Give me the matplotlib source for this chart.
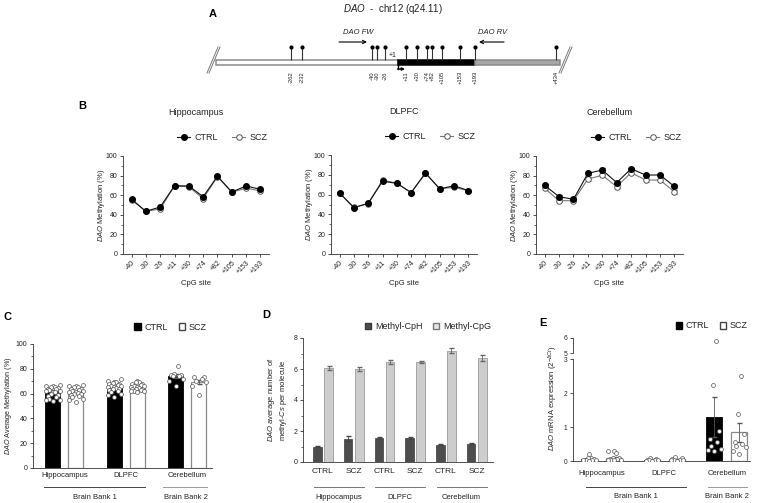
import numpy as np
import matplotlib
matplotlib.use("Agg")
import matplotlib.pyplot as plt
from matplotlib.patches import Patch, Rectangle
from matplotlib.lines import Line2D

plt.rcParams['font.family'] = ['Liberation Sans', 'DejaVu Sans']
plt.rcParams['mathtext.fontset'] = 'custom'
plt.rcParams['mathtext.rm'] = 'Liberation Sans'
plt.rcParams['mathtext.it'] = 'Liberation Sans:italic'
plt.rcParams['text.color'] = '#222222'

# ---------------- data ----------------
# panel A: CpG sites (bp from TSS) and their place on the schematic
sites = ['-262', '-232', '-40', '-30', '-26', '+11', '+30', '+74', '+82', '+105', '+153', '+193', '+434']
site_x = [291, 302, 372, 377, 385, 406, 417, 427, 432, 442, 460, 475, 556]

# panel B: methylation per CpG site (%)
cpg = ['-40', '-30', '-26', '+11', '+30', '+74', '+82', '+105', '+153', '+193']
hip_ctrl = [55.8, 43.5, 48.0, 69.7, 69.4, 58.5, 79.3, 63.3, 69.4, 66.0]
hip_scz = [55.5, 43.5, 46.0, 69.5, 68.5, 56.5, 79.0, 63.0, 67.3, 64.3]
dlp_ctrl = [61.6, 46.8, 51.2, 73.4, 71.4, 62.0, 81.8, 65.7, 69.0, 64.0]
dlp_scz = [61.5, 47.0, 51.0, 74.7, 71.5, 62.0, 81.5, 66.0, 67.3, 64.0]
cer_ctrl = [70.0, 58.5, 55.8, 82.3, 85.7, 72.8, 87.0, 80.6, 80.6, 69.0]
cer_scz = [67.0, 54.4, 54.4, 76.5, 80.3, 68.7, 83.0, 75.5, 75.5, 63.6]
cer_ctrl_sem = [1.6, 1.4, 1.2, 1.5, 1.6, 1.4, 1.2, 1.5, 1.5, 1.8]
cer_scz_sem = [1.5, 1.5, 1.3, 1.6, 1.7, 1.5, 1.4, 1.6, 1.6, 1.9]

# panel C: average methylation
regions = ['Hippocampus', 'DLPFC', 'Cerebellum']
c_ctrl_mean = [62.0, 64.5, 74.0]
c_scz_mean = [61.0, 64.8, 69.5]
c_ctrl_sem = [0.8, 0.8, 1.6]
c_scz_sem = [0.8, 0.5, 1.8]
c_ctrl_pts = [
    [67, 66.5, 66, 65.5, 65, 64.5, 64, 63.5, 63, 62.5, 62, 61.5, 61, 60, 59, 58, 57, 56, 55, 54.5, 54],
    [72, 70, 69.5, 69, 68.5, 68, 67.5, 67, 66.5, 66, 65.5, 65, 64.5, 64, 63.5, 63, 62, 61, 60, 59, 57],
    [82, 76, 75, 75, 74.5, 74, 72, 70, 66],
]
c_scz_pts = [
    [67, 66.5, 66, 65.5, 65, 64, 63.5, 63, 62.5, 62, 61.5, 61, 60.5, 60, 59.5, 59, 58, 57, 56, 55, 53.5],
    [70.5, 69.5, 69, 68, 67.5, 67, 66.5, 66, 65.5, 65, 64.5, 64, 63.5, 63.5, 63, 62.5, 62, 62, 61.5],
    [73.5, 73, 72, 70, 69.5, 66, 59],
]

# panel D: methyl-Cs per molecule
d_samples = ['CTRL', 'SCZ', 'CTRL', 'SCZ', 'CTRL', 'SCZ']
cph = [1.0, 1.5, 1.55, 1.55, 1.12, 1.18]
cph_sem = [0.03, 0.15, 0.05, 0.08, 0.02, 0.03]
cpg_mol = [6.07, 6.0, 6.45, 6.43, 7.18, 6.7]
cpg_sem = [0.12, 0.1, 0.12, 0.06, 0.15, 0.2]

# panel E: mRNA expression
e_ctrl_mean = [0.06, 0.04, 1.3]
e_scz_mean = [0.09, 0.05, 0.84]
e_ctrl_sem = [0.02, 0.01, 0.58]
e_scz_sem = [0.03, 0.01, 0.27]
e_ctrl_pts = [
    [0.2, 0.1, 0.08, 0.05, 0.04, 0.03, 0.03, 0.02, 0.02, 0.01],
    [0.1, 0.05, 0.04, 0.03, 0.02, 0.02, 0.01, 0.01],
    [5.8, 2.25, 0.88, 0.65, 0.55, 0.45, 0.35, 0.32, 0.3],
]
e_scz_pts = [
    [0.3, 0.28, 0.25, 0.1, 0.08, 0.06, 0.05, 0.04, 0.03, 0.02, 0.02],
    [0.12, 0.08, 0.05, 0.04, 0.03, 0.02, 0.02, 0.01],
    [2.5, 1.37, 0.8, 0.55, 0.5, 0.45, 0.4, 0.3, 0.2],
]

# ---------------- helpers ----------------
W, H = 760, 503


def box(l, t, r, b):
    return [l / W, 1 - b / H, (r - l) / W, (b - t) / H]


def fxy(x, y):
    return (x / W, 1 - y / H)


def clean(ax):
    for s in ('top', 'right'):
        ax.spines[s].set_visible(False)
    for s in ('left', 'bottom'):
        ax.spines[s].set_color('#333333')
        ax.spines[s].set_linewidth(0.6)
    ax.tick_params(length=2.5, width=0.6, labelsize=5, pad=1.5, colors='#333333', labelcolor='#222222')
    ax.tick_params(which='minor', length=1.5, width=0.5, colors='#333333')
    ax.patch.set_alpha(0)


def spread(vals, center, half):
    vals = np.asarray(vals, float)
    order = np.argsort(vals)
    pattern = np.array([0, -1, 1, -0.5, 0.5, -0.75, 0.75, -0.25, 0.25])
    off = np.empty(len(vals))
    off[order] = np.resize(pattern, len(vals)) * half
    return center + off, vals


def hline(ax, x0, x1, y, color='#555555'):
    ax.plot([x0, x1], [y, y], transform=ax.get_xaxis_transform(), color=color, lw=0.7, clip_on=False)


def xtext(ax, x, y, s, size=5.5):
    ax.text(x, y, s, transform=ax.get_xaxis_transform(), ha='center', va='center', fontsize=size)


fig = plt.figure(figsize=(7.6, 5.03), dpi=100)

# ---------------- panel A ----------------
pa = fig.add_axes([0, 0, 1, 1])
pa.set_xlim(0, W)
pa.set_ylim(H, 0)
pa.axis('off')

tss_x = 398
pa.add_patch(Rectangle((216, 60), tss_x - 216, 5, fc='white', ec='#8a8a8a', lw=1.1))
pa.add_patch(Rectangle((tss_x, 60), site_x[11] - tss_x, 5, fc='black', ec='black', lw=1.1))
pa.add_patch(Rectangle((site_x[11], 60), 560 - site_x[11], 5, fc='#a8a8a8', ec='#8a8a8a', lw=1.1))
for dx in (0, 2.0):
    pa.plot([207 + dx, 218 + dx], [73, 47], color='#7a7a7a', lw=0.7)
    pa.plot([559 + dx, 570 + dx], [73, 47], color='#7a7a7a', lw=0.7)
pa.vlines(site_x, 47, 60, color='#333333', lw=0.8)
pa.scatter(site_x, [47] * len(site_x), s=9, c='black', zorder=3, linewidths=0)
for x, lab in zip(site_x, sites):
    pa.text(x, 71, lab, rotation=90, ha='center', va='top', fontsize=4.2)
pa.text(tss_x - 1, 55, '+1', ha='right', va='center', fontsize=5)
pa.plot([tss_x, tss_x], [65, 69], color='black', lw=1.0)
pa.annotate('', xy=(405, 69), xytext=(tss_x - 0.5, 69),
            arrowprops=dict(arrowstyle='-|>', lw=1.0, color='black', mutation_scale=4, shrinkA=0, shrinkB=0))
pa.text(358, 32, 'DAO FW', style='italic', fontsize=5.5, ha='center', va='center')
pa.annotate('', xy=(367, 42), xytext=(339, 42),
            arrowprops=dict(arrowstyle='->', lw=0.8, color='black', mutation_scale=6, shrinkA=0, shrinkB=0))
pa.text(493, 32, 'DAO RV', style='italic', fontsize=5.5, ha='center', va='center')
pa.annotate('', xy=(479, 42), xytext=(504, 42),
            arrowprops=dict(arrowstyle='->', lw=0.8, color='black', mutation_scale=6, shrinkA=0, shrinkB=0))
pa.text(393, 9, r'$\it{DAO}$  -  chr12 (q24.11)', ha='center', va='center', fontsize=7)

for letter, (x, y) in zip('ABCDE', [(213, 14), (82, 106), (8, 317), (266, 315), (543, 323)]):
    pa.text(x, y, letter, ha='center', va='center', fontsize=8, fontweight='bold', color='black')

# ---------------- panel B ----------------
b_panels = [
    ('Hippocampus', hip_ctrl, hip_scz, None, None, (123, 156, 269, 254)),
    ('DLPFC', dlp_ctrl, dlp_scz, None, None, (331, 155, 477, 254)),
    ('Cerebellum', cer_ctrl, cer_scz, cer_ctrl_sem, cer_scz_sem, (536, 156, 683, 254)),
]
xb = np.arange(len(cpg))
for title, ctrl, scz, ce, se, bb in b_panels:
    ax = fig.add_axes(box(*bb))
    clean(ax)
    ax.errorbar(xb, scz, yerr=se, color='#777777', lw=0.8, marker='o', ms=4, mfc='white', mec='#555555',
                mew=0.7, ecolor='#555555', elinewidth=0.6, capsize=1.8, zorder=2)
    ax.errorbar(xb, ctrl, yerr=ce, color='#111111', lw=0.8, marker='o', ms=4, mfc='black', mec='black',
                ecolor='#111111', elinewidth=0.6, capsize=1.8, zorder=3)
    ax.set_xlim(-0.6, len(cpg) - 0.4)
    ax.set_ylim(0, 100)
    ax.set_yticks(np.arange(0, 101, 20))
    ax.set_yticks(np.arange(0, 101, 10), minor=True)
    ax.set_xticks(xb)
    ax.set_xticklabels(cpg, rotation=45, ha='right', rotation_mode='anchor')
    ax.text(0.5, 1.44, title, transform=ax.transAxes, ha='center', va='center', fontsize=6.5)
    ax.text(0.5, -0.3, 'CpG site', transform=ax.transAxes, ha='center', va='center', fontsize=5.5)
    ax.text(-0.145, 0.5, r'$\it{DAO}$ Methylation (%)', transform=ax.transAxes, rotation=90,
            ha='center', va='center', fontsize=5.5)
    handles = [
        Line2D([], [], color='#111111', lw=0.8, marker='o', ms=4, mfc='black', mec='black'),
        Line2D([], [], color='#777777', lw=0.8, marker='o', ms=4, mfc='white', mec='#555555', mew=0.7),
    ]
    ax.legend(handles, ['CTRL', 'SCZ'], loc='center right', bbox_to_anchor=(0.99, 1.19), ncol=2,
              frameon=False, fontsize=6.5, handlelength=1.4, handletextpad=0.5, columnspacing=1.6,
              borderaxespad=0, borderpad=0)

# ---------------- panel C ----------------
axc = fig.add_axes(box(33, 344, 212, 468))
clean(axc)
xg = np.arange(len(regions))
bw, off = 0.245, 0.187
axc.bar(xg - off, c_ctrl_mean, bw, color='black', edgecolor='black', lw=0.6, zorder=1)
axc.bar(xg + off, c_scz_mean, bw, color='white', edgecolor='#8a8a8a', lw=0.9, zorder=1)
axc.errorbar(xg - off, c_ctrl_mean, yerr=c_ctrl_sem, fmt='none', ecolor='#555555', elinewidth=0.6,
             capsize=1.8, zorder=2)
axc.errorbar(xg + off, c_scz_mean, yerr=c_scz_sem, fmt='none', ecolor='#555555', elinewidth=0.6,
             capsize=1.8, zorder=2)
for i in range(len(regions)):
    px, py = spread(c_ctrl_pts[i], xg[i] - off, 0.11)
    axc.scatter(px, py, s=8, facecolor='white', edgecolor='#555555', linewidths=0.5, zorder=3)
    px, py = spread(c_scz_pts[i], xg[i] + off, 0.11)
    axc.scatter(px, py, s=8, facecolor='white', edgecolor='#555555', linewidths=0.5, zorder=3)
axc.set_xlim(-0.51, 2.4)
axc.set_ylim(0, 100)
axc.set_yticks(np.arange(0, 101, 20))
axc.set_yticks(np.arange(0, 101, 10), minor=True)
axc.set_xticks([])
axc.text(-0.135, 0.5, r'$\it{DAO}$ Average Methylation (%)', transform=axc.transAxes, rotation=90,
         ha='center', va='center', fontsize=5.2)
for i, r in enumerate(regions):
    xtext(axc, xg[i], -0.062, r)
hline(axc, -0.33, 1.31, -0.153, '#444444')
hline(axc, 1.6, 2.32, -0.153, '#999999')
xtext(axc, 0.5, -0.234, 'Brain Bank 1')
xtext(axc, 1.97, -0.234, 'Brain Bank 2')
axc.legend([Patch(facecolor='black', edgecolor='black'), Patch(facecolor='white', edgecolor='#444444')],
           ['CTRL', 'SCZ'], loc='center right', bbox_to_anchor=(0.97, 1.137), ncol=2, frameon=False,
           fontsize=6.5, handlelength=0.7, handleheight=0.7, handletextpad=0.4, columnspacing=1.2,
           borderaxespad=0, borderpad=0)

# ---------------- panel D ----------------
axd = fig.add_axes(box(303, 338, 493, 462))
clean(axd)
xs = np.arange(len(d_samples))
dw, doff = 0.28, 0.18
axd.bar(xs - doff, cph, dw, color='#4d4d4d', edgecolor='#3a3a3a', lw=0.5, zorder=1)
axd.bar(xs + doff, cpg_mol, dw, color='#cdcdcd', edgecolor='#9a9a9a', lw=0.6, zorder=1)
axd.errorbar(xs - doff, cph, yerr=cph_sem, fmt='none', ecolor='#444444', elinewidth=0.6, capsize=1.8)
axd.errorbar(xs + doff, cpg_mol, yerr=cpg_sem, fmt='none', ecolor='#666666', elinewidth=0.6, capsize=1.8)
axd.set_xlim(-0.65, 5.53)
axd.set_ylim(0, 8)
axd.set_yticks(np.arange(0, 9, 2))
axd.set_yticks(np.arange(0, 9, 1), minor=True)
axd.set_xticks(xs)
axd.set_xticklabels(d_samples, fontsize=6)
axd.tick_params(axis='x', length=0, pad=4)
axd.text(-0.135, 0.5, r'$\it{DAO}$ average number of' + '\n' + r'methyl-$\it{Cs}$ per molecule',
         transform=axd.transAxes, rotation=90, ha='center', va='center', fontsize=5.5, linespacing=1.1)
for i, r in enumerate(regions):
    hline(axd, 2 * i - 0.3, 2 * i + 1.33, -0.2, '#777777')
    xtext(axd, 2 * i + 0.5, -0.29, r)
axd.legend([Patch(facecolor='#4d4d4d', edgecolor='#3a3a3a'), Patch(facecolor='#e6e6e6', edgecolor='#777777')],
           ['Methyl-CpH', 'Methyl-CpG'], loc='center right', bbox_to_anchor=(0.99, 1.09), ncol=2,
           frameon=False, fontsize=6.5, handlelength=0.7, handleheight=0.7, handletextpad=0.4,
           columnspacing=1.2, borderaxespad=0, borderpad=0)

# ---------------- panel E ----------------
axe = fig.add_axes(box(573, 359, 750, 461))
axu = fig.add_axes(box(573, 338, 750, 353), sharex=axe)
clean(axe)
clean(axu)
axe.tick_params(labelsize=4.8)
axu.tick_params(labelsize=4.8)
ew, eoff = 0.256, 0.2
for ax in (axe, axu):
    ax.bar(xg - eoff, e_ctrl_mean, ew, color='black', edgecolor='black', lw=0.6, zorder=1)
    ax.bar(xg + eoff, e_scz_mean, ew, color='white', edgecolor='#8a8a8a', lw=0.9, zorder=1)
    ax.errorbar(xg - eoff, e_ctrl_mean, yerr=e_ctrl_sem, fmt='none', ecolor='#555555', elinewidth=0.6,
                capsize=1.8, zorder=2)
    ax.errorbar(xg + eoff, e_scz_mean, yerr=e_scz_sem, fmt='none', ecolor='#555555', elinewidth=0.6,
                capsize=1.8, zorder=2)
    for i in range(len(regions)):
        px, py = spread(e_ctrl_pts[i], xg[i] - eoff, 0.1)
        ax.scatter(px, py, s=8, facecolor='white', edgecolor='#555555', linewidths=0.5, zorder=3)
        px, py = spread(e_scz_pts[i], xg[i] + eoff, 0.1)
        ax.scatter(px, py, s=8, facecolor='white', edgecolor='#555555', linewidths=0.5, zorder=3)
axe.set_xlim(-0.46, 2.37)
axe.set_ylim(0, 3)
axe.set_yticks([0, 1, 2, 3])
axe.set_xticks([])
axu.set_ylim(5, 6)
axu.set_yticks([5, 6])
axu.spines['bottom'].set_visible(False)
axu.tick_params(axis='x', bottom=False, labelbottom=False)
for i, r in enumerate(regions):
    xtext(axe, xg[i], -0.127, r)
hline(axe, -0.26, 1.34, -0.255, '#444444')
hline(axe, 1.7, 2.32, -0.255, '#999999')
xtext(axe, 0.54, -0.35, 'Brain Bank 1')
xtext(axe, 2.0, -0.35, 'Brain Bank 2')
fig.text(553 / W, 1 - 398 / H, r'$\it{DAO}$ mRNA expression (2$^{-\Delta Ct}$)', rotation=90,
         ha='center', va='center', fontsize=5.5)
fig.legend([Patch(facecolor='black', edgecolor='black'), Patch(facecolor='white', edgecolor='#444444')],
           ['CTRL', 'SCZ'], loc='center right', bbox_to_anchor=fxy(748, 326), ncol=2, frameon=False,
           fontsize=6.5, handlelength=0.7, handleheight=0.7, handletextpad=0.4, columnspacing=1.2,
           borderaxespad=0, borderpad=0)

fig.savefig('out.png', dpi=100, facecolor='white')
